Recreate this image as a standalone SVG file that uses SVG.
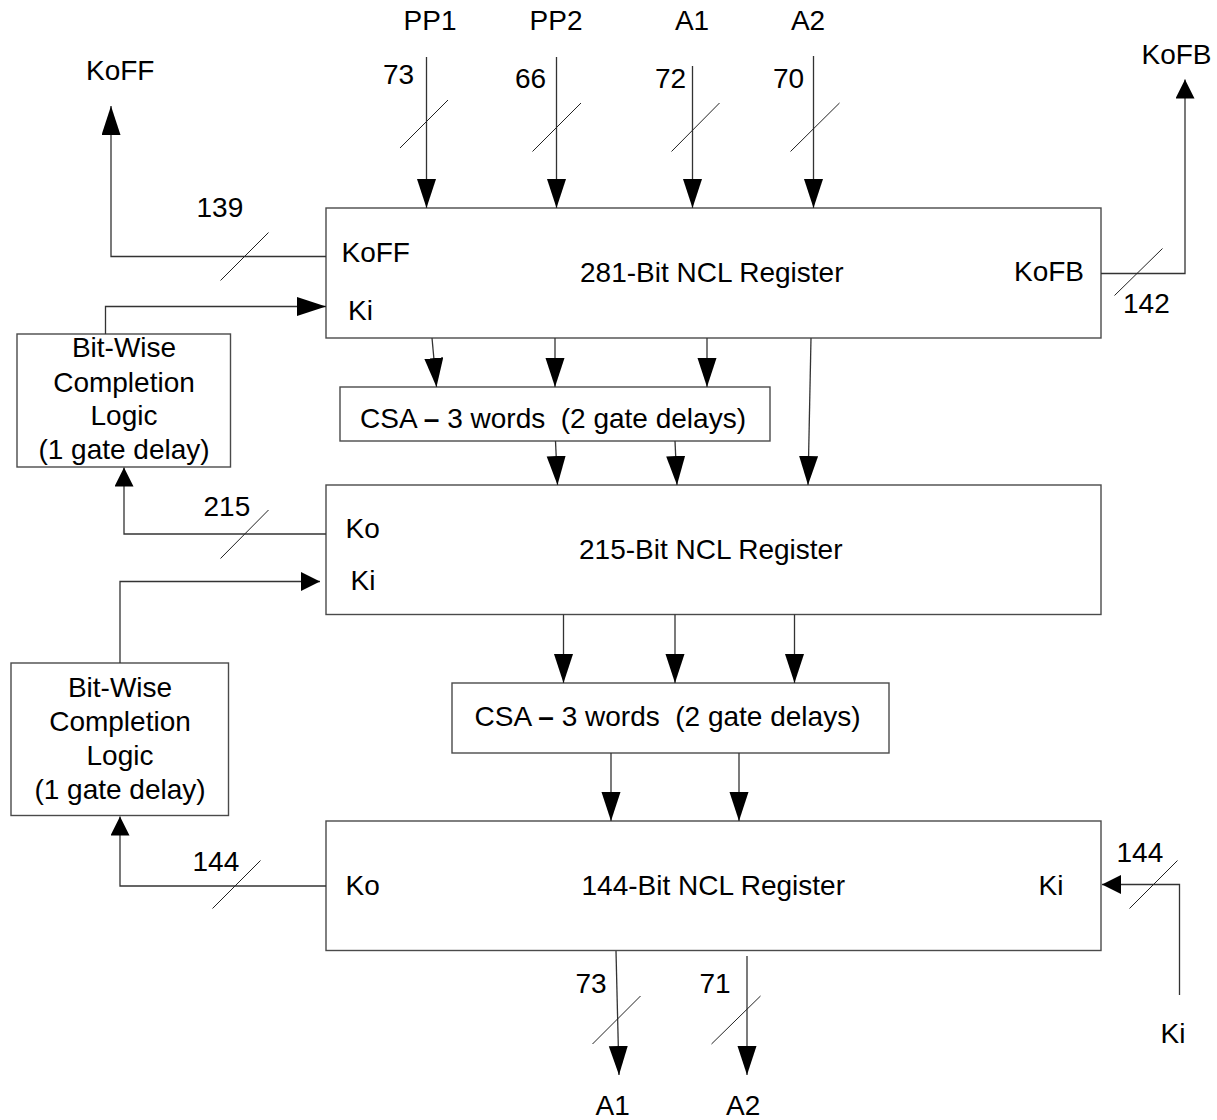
<svg xmlns="http://www.w3.org/2000/svg" width="1217" height="1120" viewBox="0 0 1217 1120">
  <defs>
    <style>
      text { font-family: "Liberation Sans", Arial, sans-serif; font-size: 28px; fill: #000; }
      .c { text-anchor: middle; }
      .e { text-anchor: end; }
      .pre { white-space: pre; }
      .dash { font-weight: bold; }
      .box { fill: #fff; stroke: #4a4a4a; stroke-width: 1.4; }
      .wire { fill: none; stroke: #333; stroke-width: 1.3; }
      .bus { fill: none; stroke: #222; stroke-width: 1; }
    </style>
    <marker id="headL" markerUnits="userSpaceOnUse" markerWidth="30" markerHeight="20" refX="29" refY="9.5" orient="auto">
      <path d="M0,0 L29,9.5 L0,19 z" fill="#000"/>
    </marker>
    <marker id="headS" markerUnits="userSpaceOnUse" markerWidth="20" markerHeight="20" refX="19" refY="9.5" orient="auto">
      <path d="M0,0 L19,9.5 L0,19 z" fill="#000"/>
    </marker>
  </defs>

  <rect width="1217" height="1120" fill="#fff"/>

  <!-- Register stage 1 -->
  <g id="reg281">
    <rect class="box" x="326" y="208" width="775" height="130"/>
    <text x="580" y="282">281-Bit NCL Register</text>
    <text x="341.5" y="261.5">KoFF</text>
    <text x="348" y="320">Ki</text>
    <text class="e" x="1084" y="281">KoFB</text>
  </g>

  <!-- Carry-save adder 1 -->
  <g id="csa1">
    <rect class="box" x="340" y="387" width="430" height="54"/>
    <text class="pre" x="360" y="428">CSA <tspan class="dash">–</tspan> 3 words  (2 gate delays)</text>
  </g>

  <!-- Register stage 2 -->
  <g id="reg215">
    <rect class="box" x="326" y="485" width="775" height="129.5"/>
    <text x="579" y="558.5">215-Bit NCL Register</text>
    <text x="345.5" y="537.5">Ko</text>
    <text x="350.5" y="590">Ki</text>
  </g>

  <!-- Carry-save adder 2 -->
  <g id="csa2">
    <rect class="box" x="452" y="683" width="437" height="70"/>
    <text class="pre" x="474.5" y="726">CSA <tspan class="dash">–</tspan> 3 words  (2 gate delays)</text>
  </g>

  <!-- Register stage 3 -->
  <g id="reg144">
    <rect class="box" x="326" y="821" width="775" height="129.5"/>
    <text x="581.5" y="894.5">144-Bit NCL Register</text>
    <text x="345.5" y="895">Ko</text>
    <text class="e" x="1063.5" y="894.5">Ki</text>
  </g>

  <!-- Completion detection blocks -->
  <g id="completion1">
    <rect class="box" x="17" y="334" width="213.5" height="133"/>
    <text class="c" x="124" y="357">Bit-Wise</text>
    <text class="c" x="124" y="391.5">Completion</text>
    <text class="c" x="124" y="425">Logic</text>
    <text class="c" x="124" y="458.5">(1 gate delay)</text>
  </g>
  <g id="completion2">
    <rect class="box" x="11" y="663" width="217.5" height="152.5"/>
    <text class="c" x="120" y="696.5">Bit-Wise</text>
    <text class="c" x="120" y="731">Completion</text>
    <text class="c" x="120" y="765">Logic</text>
    <text class="c" x="120" y="799">(1 gate delay)</text>
  </g>

  <!-- Connectors -->
  <g id="connectors">
    <!-- primary inputs -->
    <path class="wire" d="M426.5,57 V208" marker-end="url(#headL)"/>
    <path class="wire" d="M556.5,57 V208" marker-end="url(#headL)"/>
    <path class="wire" d="M692.5,66 V208" marker-end="url(#headL)"/>
    <path class="wire" d="M813.5,56 V208" marker-end="url(#headL)"/>

    <!-- stage 1 handshake -->
    <path class="wire" d="M326,256.5 H111 V106" marker-end="url(#headL)"/>
    <path class="wire" d="M105.5,334 V306.5 H326" marker-end="url(#headL)"/>
    <path class="wire" d="M1101,273.5 H1185 V79.5" marker-end="url(#headS)"/>

    <!-- stage 1 to CSA 1 / stage 2 -->
    <path class="wire" d="M432,338 L436.5,387" marker-end="url(#headL)"/>
    <path class="wire" d="M555,338 V387" marker-end="url(#headL)"/>
    <path class="wire" d="M707,338 V387" marker-end="url(#headL)"/>
    <path class="wire" d="M811,338 L808,485" marker-end="url(#headL)"/>
    <path class="wire" d="M555.5,441 L557.5,485" marker-end="url(#headL)"/>
    <path class="wire" d="M675,441 L677,485" marker-end="url(#headL)"/>

    <!-- stage 2 handshake -->
    <path class="wire" d="M326,534 H124 V467.5" marker-end="url(#headS)"/>
    <path class="wire" d="M120,663 V581.5 H320" marker-end="url(#headS)"/>

    <!-- stage 2 to CSA 2 / stage 3 -->
    <path class="wire" d="M563.5,614.5 V683" marker-end="url(#headL)"/>
    <path class="wire" d="M675,614.5 V683" marker-end="url(#headL)"/>
    <path class="wire" d="M794.5,614.5 V683" marker-end="url(#headL)"/>
    <path class="wire" d="M611,753 V821" marker-end="url(#headL)"/>
    <path class="wire" d="M739,753 V821" marker-end="url(#headL)"/>

    <!-- stage 3 handshake -->
    <path class="wire" d="M326,886 H120 V816.5" marker-end="url(#headS)"/>
    <path class="wire" d="M1179.5,995 V884.5 H1102" marker-end="url(#headS)"/>

    <!-- outputs -->
    <path class="wire" d="M616,951 L619,1075" marker-end="url(#headL)"/>
    <path class="wire" d="M747,956 V1075" marker-end="url(#headL)"/>

    <!-- bus width ticks -->
    <path class="bus" d="M400,148 L448,100 M532.5,151.5 L581,103 M671.5,151.5 L719.5,103 M790.5,151.5 L839.5,103"/>
    <path class="bus" d="M220.5,280.5 L268.5,232.5 M1114.5,295.5 L1162.5,248.5"/>
    <path class="bus" d="M220.5,558.5 L268.5,510"/>
    <path class="bus" d="M212.5,908.5 L260.5,860.5 M1129.5,908.5 L1177.5,860.5"/>
    <path class="bus" d="M592.5,1044 L640.5,996 M711.5,1044 L760.5,996"/>

    <!-- signal names and widths -->
    <text class="c" x="430" y="30">PP1</text>
    <text class="c" x="556" y="30">PP2</text>
    <text class="c" x="692" y="30">A1</text>
    <text class="c" x="808" y="30">A2</text>
    <text x="383" y="84">73</text>
    <text x="515" y="88">66</text>
    <text x="655" y="88">72</text>
    <text x="773" y="88">70</text>
    <text x="86" y="80">KoFF</text>
    <text x="196.5" y="216.5">139</text>
    <text x="1141.5" y="64">KoFB</text>
    <text x="1123" y="313">142</text>
    <text x="203.5" y="515.5">215</text>
    <text x="192.5" y="870.5">144</text>
    <text x="1116.5" y="861.5">144</text>
    <text x="1160.5" y="1042.5">Ki</text>
    <text x="575.5" y="992.5">73</text>
    <text x="699.5" y="992.5">71</text>
    <text x="595.5" y="1115">A1</text>
    <text x="726" y="1115">A2</text>
  </g>
</svg>
